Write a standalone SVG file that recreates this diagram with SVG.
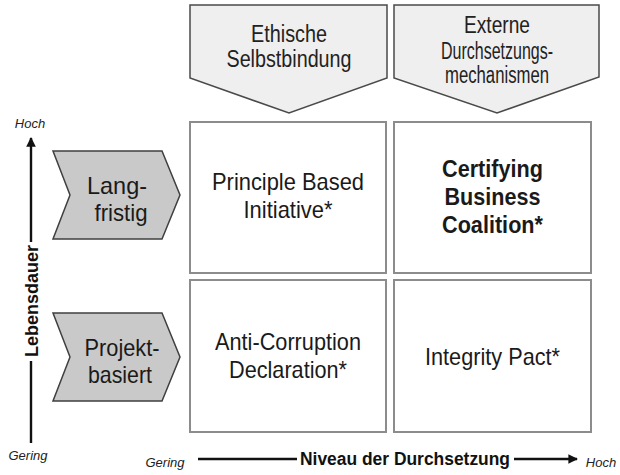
<svg xmlns="http://www.w3.org/2000/svg" width="620" height="475" viewBox="0 0 620 475">
  <style>
    text { font-family: "Liberation Sans", Arial, sans-serif; fill: #1a1a1a; text-anchor: middle; }
    .head { fill: #efefef; stroke: #4a4a4a; stroke-width: 1.5; }
    .row { fill: #c9c9c9; stroke: #3f3f3f; stroke-width: 1.5; }
    .cell { fill: #ffffff; stroke: #8c8c8c; stroke-width: 2; }
    .t-head { font-size: 23.5px; fill: #222; }
    .t-row { font-size: 24px; }
    .t-cell { font-size: 24px; }
    .t-bold { font-size: 24px; font-weight: bold; }
    .axis { stroke: #111; stroke-width: 2.4; fill: none; }
    .t-axis { font-size: 18px; font-weight: bold; fill: #111; }
    .t-end { font-size: 13px; font-style: italic; fill: #222; }
  </style>
  <defs>
    <marker id="arrow" viewBox="0 0 10 10" refX="9" refY="5" markerWidth="4" markerHeight="4" orient="auto" markerUnits="strokeWidth">
      <path d="M0,0 L10,5 L0,10 Z" fill="#111"/>
    </marker>
  </defs>

  <!-- column headers -->
  <g id="col-ethisch">
    <path class="head" d="M190,5 L387,5 L387,78 L289,113 L190,78 Z"/>
    <text class="t-head" x="289" y="42" textLength="76" lengthAdjust="spacingAndGlyphs">Ethische</text>
    <text class="t-head" x="289" y="67" textLength="125" lengthAdjust="spacingAndGlyphs">Selbstbindung</text>
  </g>
  <g id="col-extern">
    <path class="head" d="M394,5 L599,5 L599,77 L497,113 L394,78 Z"/>
    <text class="t-head" x="497" y="33" textLength="66" lengthAdjust="spacingAndGlyphs">Externe</text>
    <text class="t-head" x="497" y="59" textLength="112" lengthAdjust="spacingAndGlyphs">Durchsetzungs-</text>
    <text class="t-head" x="497" y="83" textLength="104" lengthAdjust="spacingAndGlyphs">mechanismen</text>
  </g>

  <!-- row headers -->
  <g id="row-langfristig">
    <path class="row" d="M53,151 L162,151 L180,195 L162,239 L53,239 L70,195 Z"/>
    <text class="t-row" x="117" y="194" textLength="60" lengthAdjust="spacingAndGlyphs">Lang-</text>
    <text class="t-row" x="121" y="221" textLength="53" lengthAdjust="spacingAndGlyphs">fristig</text>
  </g>
  <g id="row-projekt">
    <path class="row" d="M53,313 L162,313 L180,357 L162,401 L53,401 L70,357 Z"/>
    <text class="t-row" x="122" y="356" textLength="75" lengthAdjust="spacingAndGlyphs">Projekt-</text>
    <text class="t-row" x="120" y="383" textLength="64" lengthAdjust="spacingAndGlyphs">basiert</text>
  </g>

  <!-- matrix cells -->
  <g id="cell-principle">
    <rect class="cell" x="190" y="122" width="196" height="151"/>
    <text class="t-cell" x="288" y="190" textLength="152" lengthAdjust="spacingAndGlyphs">Principle Based</text>
    <text class="t-cell" x="288" y="218" textLength="89" lengthAdjust="spacingAndGlyphs">Initiative*</text>
  </g>
  <g id="cell-certifying">
    <rect class="cell" x="394" y="122" width="197" height="151"/>
    <text class="t-bold" x="492.5" y="177" textLength="101" lengthAdjust="spacingAndGlyphs">Certifying</text>
    <text class="t-bold" x="492.5" y="205" textLength="96" lengthAdjust="spacingAndGlyphs">Business</text>
    <text class="t-bold" x="492.5" y="233" textLength="101" lengthAdjust="spacingAndGlyphs">Coalition*</text>
  </g>
  <g id="cell-anticorruption">
    <rect class="cell" x="190" y="280" width="196" height="152"/>
    <text class="t-cell" x="288" y="350" textLength="146" lengthAdjust="spacingAndGlyphs">Anti-Corruption</text>
    <text class="t-cell" x="288" y="378" textLength="118" lengthAdjust="spacingAndGlyphs">Declaration*</text>
  </g>
  <g id="cell-integrity">
    <rect class="cell" x="394" y="280" width="197" height="152"/>
    <text class="t-cell" x="492.5" y="365" textLength="135" lengthAdjust="spacingAndGlyphs">Integrity Pact*</text>
  </g>

  <!-- axes -->
  <g id="connectors">
    <line class="axis" x1="31" y1="443" x2="31" y2="361"/>
    <line class="axis" x1="31" y1="242" x2="31" y2="138" marker-end="url(#arrow)"/>
    <line class="axis" x1="198" y1="459" x2="297" y2="459"/>
    <line class="axis" x1="514" y1="459" x2="577" y2="459" marker-end="url(#arrow)"/>
  </g>
  <g id="axis-labels">
    <text class="t-end" x="30" y="128">Hoch</text>
    <text class="t-end" x="28" y="460">Gering</text>
    <text class="t-axis" transform="translate(37.5,301) rotate(-90)" textLength="112" lengthAdjust="spacingAndGlyphs">Lebensdauer</text>
    <text class="t-end" x="165" y="467">Gering</text>
    <text class="t-axis" x="405" y="465" textLength="210" lengthAdjust="spacingAndGlyphs">Niveau der Durchsetzung</text>
    <text class="t-end" x="601" y="467">Hoch</text>
  </g>
</svg>
